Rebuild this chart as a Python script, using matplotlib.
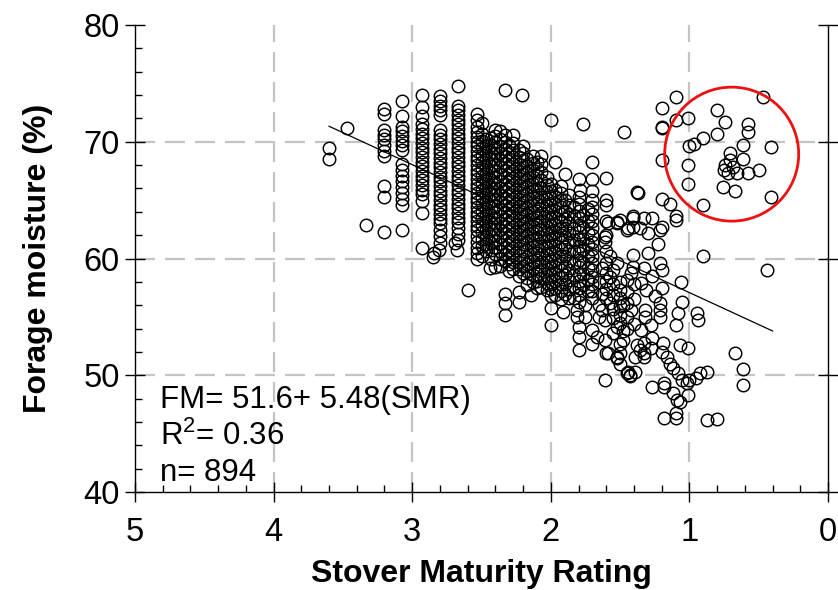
import matplotlib
matplotlib.use("Agg")
import matplotlib.pyplot as plt
from matplotlib.patches import Ellipse
from matplotlib.ticker import MultipleLocator
import numpy as np

plt.rcParams['font.family'] = ['Liberation Sans', 'DejaVu Sans']
plt.rcParams['mathtext.default'] = 'regular'

# ---- data: dense columns of points (SMR value -> forage moisture values) ----
col_smr = [3.20, 3.07, 2.93, 2.80, 2.67, 2.53, 2.47, 2.40, 2.33, 2.27,
           2.20, 2.13, 2.07, 2.00, 1.93, 1.87, 1.80, 1.73, 1.70, 1.60,
           2.50, 2.43, 2.37, 2.30, 2.23, 2.17, 2.10, 2.03, 1.97, 1.90, 1.83, 1.77]
fm_320 = [72.8, 72.4, 71.0, 70.6, 70.2, 69.7, 69.2, 68.8, 66.2, 65.3, 62.3]
fm_307 = [73.5, 72.2, 71.3, 70.9, 70.5, 70.1, 69.7, 69.3, 68.1, 67.6, 67.1, 66.6,
          66.1, 65.6, 65.1, 64.6, 62.4]
fm_293 = [74.0, 73.0, 72.2, 71.5, 71.1, 70.7, 70.3, 69.9, 69.5, 69.1, 68.7, 68.3,
          67.9, 67.5, 67.1, 66.7, 66.3, 65.9, 65.5, 64.9, 63.9, 60.9]
fm_280 = [73.9, 73.5, 73.1, 72.7, 72.3, 71.0, 70.6, 70.2, 69.8, 69.4, 69.0, 68.6,
          68.2, 67.8, 67.4, 67.0, 66.6, 66.2, 65.8, 65.4, 65.0, 64.6, 64.2, 63.8,
          63.4, 63.0, 62.4, 61.9, 61.3]
fm_267 = [74.8, 73.1, 72.7, 72.3, 71.9, 71.5, 71.1, 70.7, 70.3, 69.9, 69.5, 69.1,
          68.7, 68.3, 67.9, 67.5, 67.1, 66.7, 66.3, 65.9, 65.5, 65.1, 64.7, 64.3,
          63.9, 63.5, 63.1, 62.6, 62.1, 61.6]
fm_253 = [72.4, 71.9, 71.3, 70.8, 70.4, 70.0, 69.6, 69.2, 68.8, 68.4, 68.0, 67.6,
          67.2, 66.8, 66.4, 66.0, 65.6, 65.2, 64.8, 64.4, 64.0, 63.6, 63.2, 62.8,
          62.4, 61.9, 61.4, 60.9]
fm_247 = [70.2, 69.6, 69.0, 68.4, 67.8, 67.2, 66.6, 66.0, 65.4, 64.8, 64.2, 63.6,
          63.0, 62.4, 61.8, 61.2, 60.6]
fm_240 = [71.0, 70.5, 70.0, 69.5, 69.0, 68.5, 68.0, 67.5, 67.0, 66.5, 66.0, 65.5,
          65.0, 64.5, 64.0, 63.5, 63.0, 62.5, 62.0, 61.5, 61.0, 60.4]
fm_233 = [70.6, 70.0, 69.4, 68.8, 68.2, 67.6, 67.0, 66.4, 65.8, 65.2, 64.6, 64.0,
          63.4, 62.8, 62.2, 61.6, 61.0, 60.4, 59.8]
fm_227 = [70.6, 69.9, 69.3, 68.7, 68.1, 67.5, 66.9, 66.3, 65.7, 65.1, 64.5, 63.9,
          63.3, 62.7, 62.1, 61.5, 60.9, 60.3, 59.7, 59.1]
fm_220 = [69.6, 69.0, 68.4, 67.8, 67.2, 66.6, 66.0, 65.4, 64.8, 64.2, 63.6, 63.0,
          62.4, 61.8, 61.2, 60.6, 60.0, 59.4, 58.8]
fm_213 = [68.8, 68.2, 67.6, 67.0, 66.4, 65.8, 65.2, 64.6, 64.0, 63.4, 62.8, 62.2,
          61.6, 61.0, 60.4, 59.8, 59.2, 58.6, 58.0]
fm_207 = [68.8, 68.1, 67.4, 66.7, 66.0, 65.3, 64.6, 63.9, 63.2, 62.5, 61.8, 61.1,
          60.4, 59.7, 59.0, 58.3, 57.6]
fm_200 = [66.4, 65.8, 65.2, 64.6, 64.0, 63.4, 62.8, 62.2, 61.6, 61.0, 60.4, 59.8,
          59.2, 58.6, 58.0, 57.4, 56.8]
fm_193 = [66.2, 65.6, 65.0, 64.4, 63.8, 63.2, 62.6, 62.0, 61.4, 60.8, 60.2, 59.6,
          59.0, 58.4, 57.8, 57.2, 56.5]
fm_187 = [65.4, 64.6, 63.8, 63.0, 62.2, 61.4, 60.6, 59.8, 59.0, 58.2, 57.4, 56.6]
fm_180 = [65.3, 64.7, 64.1, 63.5, 62.9, 62.3, 61.7, 61.1, 60.5, 59.9, 59.3, 58.7,
          58.1, 57.5, 56.9, 56.3]
fm_173 = [64.2, 63.2, 62.2, 61.2, 60.2, 59.2, 58.2, 57.2]
fm_170 = [65.0, 64.4, 63.8, 63.2, 62.6, 62.0, 61.4, 60.8, 60.2, 59.6, 59.0, 58.4,
          57.8, 57.2, 56.6]
fm_160 = [63.2, 62.0, 60.6, 59.6, 58.8, 58.1, 57.4, 56.6]
fm_250 = [71.6, 70.7, 70.1, 69.5, 68.9, 68.3, 67.7, 67.1, 66.5, 65.9, 65.3, 64.7,
          64.1, 63.5, 62.9, 62.3, 61.7, 61.1, 60.2]
fm_243 = [70.3, 69.7, 69.1, 68.5, 67.9, 67.3, 66.7, 66.1, 65.5, 64.9, 64.3, 63.7,
          63.1, 62.5, 61.9, 61.3, 60.7, 60.0]
fm_237 = [70.9, 70.2, 69.6, 69.0, 68.4, 67.8, 67.2, 66.6, 66.0, 65.4, 64.8, 64.2,
          63.6, 63.0, 62.4, 61.8, 61.2, 60.6, 60.0, 59.4]
fm_230 = [69.7, 69.1, 68.5, 67.9, 67.3, 66.7, 66.1, 65.5, 64.9, 64.3, 63.7, 63.1,
          62.5, 61.9, 61.3, 60.7, 60.1, 59.5, 58.9]
fm_223 = [69.3, 68.7, 68.1, 67.5, 66.9, 66.3, 65.7, 65.1, 64.5, 63.9, 63.3, 62.7,
          62.1, 61.5, 60.9, 60.3, 59.7, 59.1, 58.5]
fm_217 = [68.5, 67.9, 67.3, 66.7, 66.1, 65.5, 64.9, 64.3, 63.7, 63.1, 62.5, 61.9,
          61.3, 60.7, 60.1, 59.5, 58.9, 58.3, 57.7]
fm_210 = [68.3, 67.7, 67.1, 66.5, 65.9, 65.3, 64.7, 64.1, 63.5, 62.9, 62.3, 61.7,
          61.1, 60.5, 59.9, 59.3, 58.7, 58.1, 57.5]
fm_203 = [67.0, 66.3, 65.7, 65.1, 64.5, 63.9, 63.3, 62.7, 62.1, 61.5, 60.9, 60.3,
          59.7, 59.1, 58.5, 57.9, 57.3]
fm_197 = [65.9, 65.3, 64.7, 64.1, 63.5, 62.9, 62.3, 61.7, 61.1, 60.5, 59.9, 59.3,
          58.7, 58.1, 57.5, 56.9]
fm_190 = [65.0, 64.1, 63.4, 62.6, 61.8, 61.0, 60.2, 59.4, 58.6, 57.8, 57.0]
fm_183 = [64.4, 63.6, 62.6, 61.6, 60.6, 59.6, 58.6, 57.6, 56.6]
fm_177 = [63.7, 62.7, 61.7, 60.7, 59.7, 58.7, 57.7]
col_fm = [fm_320, fm_307, fm_293, fm_280, fm_267, fm_253, fm_247, fm_240, fm_233,
          fm_227, fm_220, fm_213, fm_207, fm_200, fm_193, fm_187, fm_180, fm_173,
          fm_170, fm_160,
          fm_250, fm_243, fm_237, fm_230, fm_223, fm_217, fm_210, fm_203, fm_197,
          fm_190, fm_183, fm_177]

# ---- data: scattered individual points ----
pts_smr = [3.60, 3.60, 3.47, 3.33,
           2.84, 2.81, 2.85, 2.69, 2.68, 2.60, 2.53, 2.53, 2.44, 2.40,
           2.33, 2.21, 2.33, 2.33, 2.33, 2.23, 2.23, 2.14,
           2.00, 1.97, 1.77, 1.47, 1.70, 1.90, 1.80, 1.70, 1.60, 1.79, 1.70, 1.60,
           1.60, 1.52, 1.41, 1.41, 1.45, 1.38,
           2.00, 2.00, 1.91, 1.81, 1.81, 1.80, 1.80, 1.80, 1.70, 1.70, 1.67, 1.61,
           1.61, 1.60, 1.61, 1.52, 1.50, 1.48, 1.52, 1.50, 1.45, 1.43, 1.39, 1.36,
           1.33, 1.27,
           1.59, 1.52, 1.44, 1.36, 1.30, 1.21, 1.10, 1.61, 1.61, 1.41, 1.30, 1.23,
           0.90, 0.44, 1.52, 1.41, 1.33, 1.21, 1.20, 1.06, 1.20, 1.31, 1.05, 1.21,
           1.21, 1.21, 1.32, 1.32, 1.08, 1.10, 0.945, 0.94, 0.67, 0.61, 0.61, 1.07,
           1.01, 1.27, 1.33, 1.38, 1.28, 1.19, 1.20, 1.16, 1.14, 1.12, 1.08, 1.05,
           0.92, 0.87, 0.95, 1.02, 1.00, 1.01, 1.18, 1.18, 1.12, 1.09, 1.07, 1.43,
           1.44, 1.18, 1.10, 1.10, 0.87, 0.80, 1.50, 1.59, 1.52, 1.33, 1.39,
           1.41, 1.33, 1.27, 1.20, 1.50,
           1.55, 1.55, 1.55, 1.55, 1.55, 1.55, 1.50, 1.50, 1.50, 1.50, 1.50, 1.50,
           1.45, 1.45, 1.45, 1.45, 1.45, 1.40, 1.40, 1.40, 1.65, 1.65, 1.65, 1.75,
           1.75, 1.27, 1.25, 1.28,
           1.57, 1.57, 1.57, 1.63, 1.63, 1.63, 1.48, 1.48, 1.42, 1.42, 1.35, 1.35,
           1.10, 1.20, 1.20, 1.20, 1.10, 1.01, 0.80, 0.74, 0.47, 0.575, 0.575, 0.80,
           0.90, 0.97, 1.00, 0.61, 0.41, 1.20, 1.01, 0.707, 0.707, 0.74, 0.685,
           0.61, 0.75, 0.72, 0.66, 0.575, 0.50, 1.01, 0.755, 0.67, 0.41, 0.90,
           1.20, 1.14, 1.10, 1.37]
pts_fm = [69.5, 68.5, 71.2, 62.9,
          60.5, 60.7, 60.1, 61.3, 60.7, 57.3, 60.5, 60.0, 59.2, 59.3,
          74.4, 74.0, 57.0, 56.2, 55.2, 57.15, 56.3, 56.9,
          71.85, 68.3, 71.5, 70.8, 68.3, 67.2, 66.8, 66.8, 66.9, 65.9, 65.8, 65.0,
          64.6, 63.1, 63.6, 62.7, 62.4, 65.7,
          55.75, 54.3, 55.4, 55.6, 55.0, 54.15, 53.3, 52.2, 53.9, 52.7, 53.3, 54.7,
          53.0, 51.9, 49.6, 54.15, 52.7, 53.0, 51.6, 51.0, 50.2, 49.9, 50.3, 52.2,
          51.6, 49.0,
          63.0, 63.0, 62.6, 62.6, 62.2, 62.4, 63.3, 61.8, 61.4, 60.3, 60.5, 61.2,
          60.2, 59.0, 59.6, 59.3, 59.2, 59.6, 59.0, 58.0, 57.5, 57.3, 56.3, 56.2,
          55.6, 55.0, 55.6, 55.0, 55.3, 54.3, 55.3, 54.7, 51.9, 50.5, 49.2, 52.6,
          52.3, 53.2, 52.8, 52.6, 52.3, 52.8, 52.0, 51.6, 51.0, 50.6, 50.2, 49.6,
          50.2, 50.3, 49.8, 49.3, 49.6, 48.3, 49.3, 49.0, 48.5, 47.9, 47.7, 50.0,
          50.3, 46.3, 46.3, 46.8, 46.2, 46.25, 51.9, 51.9, 51.5, 51.9, 51.6,
          63.5, 63.5, 63.5, 62.7, 63.3,
          59.0, 57.8, 56.9, 55.7, 54.9, 53.6, 58.0, 57.3, 56.6, 55.9, 55.2, 54.5,
          58.2, 57.1, 56.2, 55.0, 54.0, 57.8, 56.5, 54.4, 58.0, 56.0, 55.0, 56.0,
          55.0, 58.5, 56.8, 54.3,
          60.2, 58.4, 56.2, 59.2, 57.0, 55.6, 56.0, 53.8, 58.8, 55.6, 57.9, 53.9,
          73.8, 72.85, 71.3, 71.2, 71.85, 72.0, 72.7, 71.7, 73.8, 71.5, 70.85, 70.7,
          70.35, 69.8, 69.6, 69.7, 69.56, 68.4, 68.0, 69.0, 68.4, 68.0, 67.85,
          68.5, 67.6, 67.3, 67.3, 67.3, 67.6, 66.4, 66.1, 65.8, 65.3, 64.6,
          65.1, 64.7, 63.6, 65.6]

# regression line and annotations
fit_intercept = 51.6
fit_slope = 5.48
fit_range = [3.6, 0.4]
eq_lines = ["FM= 51.6+ 5.48(SMR)", "R$^2$= 0.36", "n= 894"]
highlight_center = (0.695, 68.94)
highlight_radius_px = 67

# ---- assemble ----
xs, ys = [], []
for cx, fl in zip(col_smr, col_fm):
    xs.extend([cx] * len(fl))
    ys.extend(fl)
xs.extend(pts_smr)
ys.extend(pts_fm)

fig = plt.figure(figsize=(8.38, 5.90), dpi=100)
ax = fig.add_axes([135 / 838, 98 / 590, 693 / 838, 467 / 590])
ax.set_xlim(5, 0)
ax.set_ylim(40, 80)

for gx in [1, 2, 3, 4]:
    ax.axvline(gx, color='#c4c4c4', lw=1.6, dashes=(9, 4.5), zorder=0)
for gy in [50, 60, 70]:
    ax.axhline(gy, color='#c4c4c4', lw=1.6, dashes=(9, 4.5), zorder=0)

ax.plot(xs, ys, linestyle='none', marker='o', markersize=9.0,
        markerfacecolor='none', markeredgecolor='black', markeredgewidth=1.05,
        zorder=2)

lx = np.array(fit_range)
ax.plot(lx, fit_intercept + fit_slope * lx, color='black', lw=0.9, zorder=3)

# red highlight circle (round in screen space)
fig.canvas.draw()
cpx = ax.transData.transform(highlight_center)
p1 = ax.transData.inverted().transform(cpx + np.array([highlight_radius_px, highlight_radius_px]))
w = abs(p1[0] - highlight_center[0]) * 2
h = abs(p1[1] - highlight_center[1]) * 2
ax.add_patch(Ellipse(highlight_center, w, h, fill=False, edgecolor='#ee1111',
                     lw=2.0, zorder=4))

for i, t in enumerate(eq_lines):
    ax.text(4.82, 47.9 - i * 3.13, t, fontsize=22.5, ha='left', va='center', zorder=5)

ax.spines['top'].set_visible(False)
ax.spines['right'].set_visible(True)
for s in ['left', 'bottom', 'right']:
    ax.spines[s].set_linewidth(1.0)

ax.xaxis.set_major_locator(MultipleLocator(1))
ax.xaxis.set_minor_locator(MultipleLocator(0.2))
ax.yaxis.set_major_locator(MultipleLocator(10))
ax.yaxis.set_minor_locator(MultipleLocator(2))
ax.tick_params(which='major', direction='inout', length=14, width=1.0,
               labelsize=23.5)
ax.tick_params(axis='x', which='major', pad=11)
ax.tick_params(axis='y', which='major', pad=4, right=True, labelright=False)
ax.tick_params(which='minor', direction='in', length=5, width=1.0)
ax.tick_params(axis='y', which='minor', right=False)
ax.set_xticks([5, 4, 3, 2, 1, 0])
ax.set_xticklabels(['5', '4', '3', '2', '1', '0'])

ax.set_xlabel('Stover Maturity Rating', fontsize=23, fontweight='bold', labelpad=8)
ax.set_ylabel('Forage moisture (%)', fontsize=23, fontweight='bold', labelpad=22)

fig.savefig('out.png', dpi=100)
